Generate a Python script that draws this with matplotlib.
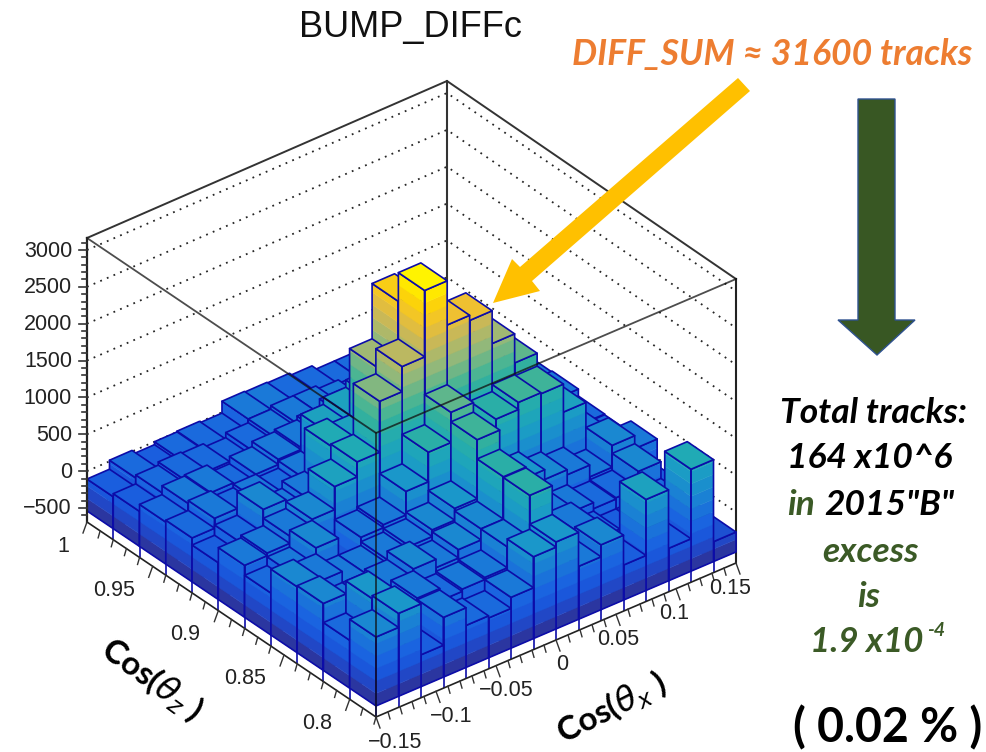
#!/usr/bin/env python3
"""BUMP_DIFFc lego plot with the slide annotations around it."""

import matplotlib
matplotlib.use("Agg")
import matplotlib.pyplot as plt
import numpy as np
from matplotlib.collections import PolyCollection
from matplotlib.colors import LinearSegmentedColormap
from matplotlib.patches import Polygon

# bin contents, one list per cos(theta_z) bin, front row first
row_00 = [395, 585, -107, 270, 30, 0, 150, 570, 640, 178, 340, -65, 694, -100, 843, -270]
row_01 = [110, 545, 100, 290, 120, 150, 178, 463, 1030, 200, 300, 50, -50, -50, 100, -250]
row_02 = [370, 150, -50, 200, 314, 200, 314, 465, 1040, 300, 250, 165, 83, 100, 327, -100]
row_03 = [355, 300, 150, 150, 200, 250, 340, 500, 1300, 500, 500, 368, 300, 140, 436, 260]
row_04 = [30, 150, 380, -229, 260, 300, 620, 1020, 1430, 900, 1074, 1170, 1155, 775, 300, 100]
row_05 = [165, 200, 300, 395, 707, 910, 1600, 1940, 2840, 2240, 2170, 1725, 1330, 800, 300, 110]
row_06 = [-40, 100, 420, 200, 300, 884, 800, 1700, 2450, 1500, 1000, 800, 600, 400, 250, 205]
row_07 = [56, 190, 100, 150, 100, 200, 700, 800, 900, 700, 500, 400, 300, 250, 200, 190]
row_08 = [30, 150, 165, 50, 150, 220, 250, 300, 400, 300, 200, 200, 150, 100, 100, 50]
row_09 = [-65, 56, 100, 80, 30, 100, 150, 200, 200, 150, 100, 100, 50, 50, 0, 0]
row_10 = [-107, 15, -40, 0, 10, -11, 150, 140, 130, 97, 30, 30, 20, 0, 0, 0]
rows = [row_00, row_01, row_02, row_03, row_04, row_05, row_06, row_07, row_08, row_09, row_10]

z_ticks = [-500, 0, 500, 1000, 1500, 2000, 2500, 3000]
costx_ticks = [-0.15, -0.1, -0.05, 0, 0.05, 0.1, 0.15]
costx_labels = ["\u22120.15", "\u22120.1", "\u22120.05", "0", "0.05", "0.1", "0.15"]
costz_ticks = [1, 0.95, 0.9, 0.85, 0.8]
costz_labels = ["1", "0.95", "0.9", "0.85", "0.8"]

# box corners on the page, pixels
F = np.array([376.0, 717.0])
L = np.array([87.0, 522.0])
R = np.array([736.0, 563.0])
B = np.array([447.0, 365.0])
Z_LOW, Z_HIGH = -690.0, 3163.0
BOX_H = 284.0
HIST_MIN = -540.0
HIST_MAX = 2840.0
NX, NY = 16, 11
X_RANGE = (-0.15, 0.15)
Y_RANGE = (0.78, 1.0)

cmap = LinearSegmentedColormap.from_list("bird", [
    (0.00, "#2b36a0"), (0.05, "#2048c8"), (0.10, "#1a58dc"), (0.15, "#1a64e0"),
    (0.22, "#1a78d8"), (0.337, "#1a9ac8"), (0.426, "#20aab4"), (0.50, "#30b0a0"),
    (0.544, "#48b594"), (0.66, "#98b878"), (0.75, "#c8b858"), (0.83, "#f0c030"),
    (0.92, "#ffd800"), (1.00, "#ffff00"),
])
levels = np.linspace(HIST_MIN, HIST_MAX, 21)
EDGE = "#0c0ca8"


def level_color(z):
    k = int(np.clip(np.searchsorted(levels, z) - 1, 0, 19))
    return cmap((k + 0.5) / 20)


def proj(i, j, z):
    u, v = i / NX, j / NY
    p = (1 - u) * (1 - v) * F + u * (1 - v) * R + (1 - u) * v * L + u * v * B
    return p[0], p[1] - (z - Z_LOW) * BOX_H / (Z_HIGH - Z_LOW)


plt.rcParams["font.family"] = ["Liberation Sans", "DejaVu Sans"]
plt.rcParams["mathtext.fontset"] = "dejavusans"

fig = plt.figure(figsize=(9.86, 7.52), dpi=100)
ax = fig.add_axes([0, 0, 1, 1])
ax.set_xlim(0, 986)
ax.set_ylim(752, 0)
ax.axis("off")

# back walls
for z in z_ticks:
    ax.plot(*zip(proj(0, NY, z), proj(NX, NY, z), proj(NX, 0, z)), color="k", lw=1.3, ls=(0, (1, 3)), alpha=0.85, zorder=1)
ax.plot(*zip(proj(0, NY, Z_HIGH), proj(NX, NY, Z_HIGH), proj(NX, 0, Z_HIGH)), color="#333333", lw=1.4, zorder=1)
ax.plot(*zip(proj(NX, NY, Z_LOW), proj(NX, NY, Z_HIGH)), color="#333333", lw=1.5, zorder=1)
ax.plot(*zip(proj(NX, 0, Z_LOW), proj(NX, 0, Z_HIGH)), color="#222222", lw=1.5, zorder=1)

# bars, far ones first
polys, faces, edges, widths = [], [], [], []


def add(poly, face, edge, lw):
    polys.append(poly)
    faces.append(face)
    edges.append(edge)
    widths.append(lw)


def add_side(a, b, top):
    for lo, hi in zip(levels[:-1], levels[1:]):
        if lo >= top:
            break
        hi = min(hi, top)
        c = cmap(((lo - HIST_MIN) / (HIST_MAX - HIST_MIN)))
        add([proj(*a, lo), proj(*b, lo), proj(*b, hi), proj(*a, hi)], c, c, 0.3)
    add([proj(*a, HIST_MIN), proj(*b, HIST_MIN), proj(*b, top), proj(*a, top)], (0, 0, 0, 0), EDGE, 1.2)


for j in range(NY - 1, -1, -1):
    for i in range(NX - 1, -1, -1):
        z = rows[j][i]
        add_side((i, j + 1), (i, j), z)
        add_side((i, j), (i + 1, j), z)
        add([proj(i, j, Z_LOW), proj(i, j, z)], (0, 0, 0, 0), EDGE, 1.2)
        add([proj(i, j, z), proj(i + 1, j, z), proj(i + 1, j + 1, z), proj(i, j + 1, z)], level_color(z), EDGE, 1.2)

ax.add_collection(PolyCollection(polys, facecolors=faces, edgecolors=edges, linewidths=widths, zorder=2))

# front frame, seen over the bars
frame = dict(color="#111111", lw=1.3, alpha=0.75, zorder=3)
ax.plot(*zip(proj(0, NY, Z_HIGH), proj(0, 0, Z_HIGH), proj(NX, 0, Z_HIGH)), **frame)
ax.plot(*zip(proj(0, 0, Z_LOW), proj(0, 0, Z_HIGH)), **frame)

# z axis
ax.plot(*zip(proj(0, NY, Z_LOW), proj(0, NY, Z_HIGH)), color="#222222", lw=1.6, zorder=3)
for z in np.arange(-600, 3200, 100):
    px, py = proj(0, NY, z)
    ax.plot([px - (8 if z % 500 == 0 else 5), px], [py, py], color="#333333", lw=1.2, zorder=3)
for z in z_ticks:
    px, py = proj(0, NY, z)
    ax.text(px - 15, py + 1, str(z).replace("-", "\u2212"), ha="right", va="center", fontsize=15.5, color="#222222")

# cos(theta_x) axis along the front right edge
ax.plot(*zip(proj(0, 0, Z_LOW), proj(NX, 0, Z_LOW)), color="#222222", lw=1.2, zorder=3)
for v in np.arange(-0.15, 0.1501, 0.01):
    px, py = proj((v - X_RANGE[0]) / (X_RANGE[1] - X_RANGE[0]) * NX, 0, Z_LOW)
    major = abs(v * 20 - round(v * 20)) < 1e-6
    ax.plot([px, px + (4 if major else 2)], [py, py + (11 if major else 7)], color="#333333", lw=1.0, zorder=3)
for v, s in zip(costx_ticks, costx_labels):
    px, py = proj((v - X_RANGE[0]) / (X_RANGE[1] - X_RANGE[0]) * NX, 0, Z_LOW)
    ax.text(px + 6.5 - 83 * v, py + 25, s, ha="center", va="center", fontsize=15.5, color="#222222")

# cos(theta_z) axis along the front left edge
ax.plot(*zip(proj(0, 0, Z_LOW), proj(0, NY, Z_LOW)), color="#222222", lw=1.2, zorder=3)
for v in np.arange(0.78, 1.0001, 0.01):
    px, py = proj(0, (v - Y_RANGE[0]) / (Y_RANGE[1] - Y_RANGE[0]) * NY, Z_LOW)
    major = abs(v * 20 - round(v * 20)) < 1e-6
    ax.plot([px, px - (4 if major else 2)], [py, py + (11 if major else 7)], color="#333333", lw=1.0, zorder=3)
for v, s in zip(costz_ticks, costz_labels):
    px, py = proj(0, (v - Y_RANGE[0]) / (Y_RANGE[1] - Y_RANGE[0]) * NY, Z_LOW)
    ax.text(px - 18, py + 24, s, ha="right", va="center", fontsize=15.5, color="#222222")

ax.text(410, 27, "BUMP_DIFFc", ha="center", va="center", fontsize=26, color="#111111")

axis_font = dict(family=["Lato", "DejaVu Sans"], fontweight="bold", fontsize=24, color="k", ha="center", va="center")
ax.text(152, 680, r"Cos($\theta_{z}$ )", rotation=-36, **axis_font)
ax.text(612, 708, r"Cos($\theta_{x}$ )", rotation=27, **axis_font)

# slide annotations
ax.add_patch(Polygon([(738, 78), (750, 91), (532, 281), (540, 291), (493, 303), (512, 259), (520, 267)],
                     closed=True, fc="#ffc000", ec="none", zorder=4))
ax.add_patch(Polygon([(858, 99), (895, 99), (895, 320), (915, 320), (877, 355), (838, 320), (858, 320)],
                     closed=True, fc="#385723", ec="#2f528f", lw=1, zorder=4))

note = dict(family=["Lato", "DejaVu Sans"], fontweight="bold", fontstyle="italic", va="center", ha="left", fontsize=25.5)
GREEN = "#3b5a26"
ax.text(572, 55, "DIFF_SUM \u2248 31600 tracks", color="#ed7d31", **{**note, "fontsize": 25.6})
ax.text(780, 413, "Total tracks:", color="k", **note)
ax.text(787, 458, "164 x10^6", color="k", **note)
ax.text(787, 505, "in", color=GREEN, **note)
ax.text(824, 505, '2015"B"', color="k", **note)
ax.text(822, 552, "excess", color=GREEN, **note)
ax.text(857, 597, "is", color=GREEN, **note)
ax.text(810, 642, "1.9 x10", color=GREEN, **{**note, "fontsize": 25})
ax.text(927, 630, "-4", color=GREEN, **{**note, "fontsize": 14})
ax.text(793, 728, "( 0.02 % )", color="k", family=["Lato", "DejaVu Sans"], fontweight="bold", va="center", ha="left", fontsize=33.5)

fig.savefig("out.png", dpi=100)
